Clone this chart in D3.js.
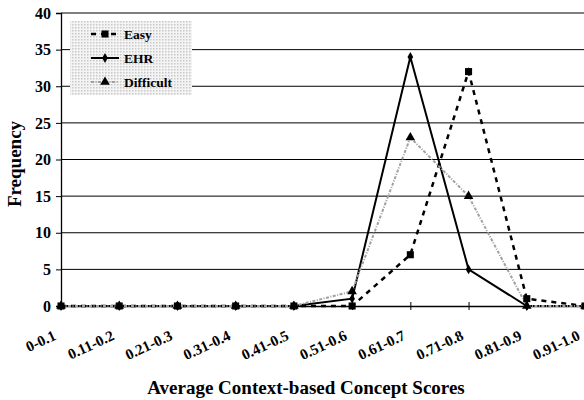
<!DOCTYPE html>
<html><head><meta charset="utf-8">
<script src="https://cdn.jsdelivr.net/npm/d3@7"></script>
<style>body{margin:0;background:#fff}svg{display:block}</style>
</head><body><svg id="c" width="584" height="400"></svg>
<script>
const categories = ["0-0.1","0.11-0.2","0.21-0.3","0.31-0.4","0.41-0.5","0.51-0.6","0.61-0.7","0.71-0.8","0.81-0.9","0.91-1.0"];
const easy = [0,0,0,0,0,0,7,32,1,0];
const ehr = [0,0,0,0,0,1,34,5,0,0];
const difficult = [0,0,0,0,0,2,23,15,0,0];
const yTicks = [0,5,10,15,20,25,30,35,40];
const seriesNames = ["Easy","EHR","Difficult"];

(function(){
const FONT = "'Liberation Serif', 'Times New Roman', Times, serif";
const svg = d3.select("#c");
const pLeft = 61, pRight = 585, pTop = 13, pBottom = 306;
const x = d3.scalePoint().domain(categories).range([pLeft, pRight]);
const y = d3.scaleLinear().domain([0,40]).range([pBottom, pTop]);

// gridlines
svg.append("g").selectAll("line").data(yTicks.filter(d=>d>0)).join("line")
  .attr("x1", pLeft).attr("x2", 584).attr("y1", d=>y(d)).attr("y2", d=>y(d))
  .attr("stroke","#000").attr("stroke-width",1);

// y axis
const ya = svg.append("g").attr("transform",`translate(${pLeft},0)`)
  .call(d3.axisLeft(y).tickValues(yTicks).tickSize(5).tickPadding(5));
ya.select(".domain").attr("stroke","#000").attr("stroke-width",1.3);
ya.selectAll(".tick line").attr("stroke","#000");
ya.selectAll("text").attr("fill","#000");

// x axis
const xa = svg.append("g").attr("transform",`translate(0,${pBottom})`)
  .call(d3.axisBottom(x).tickSize(0).tickFormat(""));
xa.select(".domain").attr("stroke","#000").attr("stroke-width",1.3);
xa.selectAll(".tick").append("line").attr("y1",-4).attr("y2",4).attr("stroke","#000");
const xl = svg.append("g").selectAll("text").data(categories).join("text")
  .attr("transform", d=>`translate(${x(d)-4},${pBottom+33}) rotate(-25)`)
  .attr("text-anchor","end").attr("fill","#000").text(d=>d);

// lines
const mk = vals => categories.map((c,i)=>({c, v: vals[i]}));
const line = d3.line().x(d=>x(d.c)).y(d=>y(d.v));
const styles = [
  {data: easy, stroke:"#000", w:2.5, dash:"5,5", marker:"square"},
  {data: ehr, stroke:"#000", w:2, dash:null, marker:"diamond"},
  {data: difficult, stroke:"#a0a0a0", w:2, dash:"3,1.5,1,1.5", marker:"triangle"}
];
const symType = {square:d3.symbolSquare, diamond:d3.symbolDiamond, triangle:d3.symbolTriangle};
const symSize = {square:50, diamond:28, triangle:40};
styles.forEach(s=>{
  svg.append("path").datum(mk(s.data)).attr("d",line).attr("fill","none")
    .attr("stroke",s.stroke).attr("stroke-width",s.w).attr("stroke-dasharray",s.dash);
});
styles.forEach(s=>{
  svg.append("g").selectAll("path").data(mk(s.data)).join("path")
    .attr("transform",d=>`translate(${x(d.c)},${y(d.v)})`)
    .attr("d", d3.symbol(symType[s.marker], symSize[s.marker])).attr("fill","#000");
});

// legend
const defs = svg.append("defs");
const pat = defs.append("pattern").attr("id","dots").attr("width",3).attr("height",3).attr("patternUnits","userSpaceOnUse");
pat.append("rect").attr("width",3).attr("height",3).attr("fill","#f4f4f4");
pat.append("rect").attr("width",1.5).attr("height",1.5).attr("fill","#c8c8c8");
svg.append("rect").attr("x",70).attr("y",21).attr("width",122).attr("height",74).attr("fill","url(#dots)");
const lg = svg.append("g");
const lt = [];
styles.forEach((s,i)=>{
  const yy = 34 + i*24;
  lg.append("line").attr("x1",91).attr("x2",119).attr("y1",yy).attr("y2",yy)
    .attr("stroke",s.stroke).attr("stroke-width",s.w).attr("stroke-dasharray",s.dash);
  lg.append("path").attr("transform",`translate(105,${yy})`).attr("d",d3.symbol(symType[s.marker],symSize[s.marker])).attr("fill","#000");
  lg.append("text").attr("class","lgt").attr("x",124).attr("y",yy+4.5).attr("fill","#000").text(seriesNames[i]);
});

// titles
svg.append("text").attr("class","ttl").attr("x",306).attr("y",394).attr("text-anchor","middle").attr("fill","#000").text("Average Context-based Concept Scores");
svg.append("text").attr("class","ttl").attr("transform","translate(21,164) rotate(-90)").attr("text-anchor","middle").attr("fill","#000").text("Frequency");

svg.selectAll("text").style("font-family", FONT).style("font-weight","bold");
ya.selectAll("text").style("font-size","16px");
xl.style("font-size","15px");
svg.selectAll(".lgt").style("font-size","13.5px");
svg.selectAll(".ttl").style("font-size","19px");
})();
</script></body></html>
